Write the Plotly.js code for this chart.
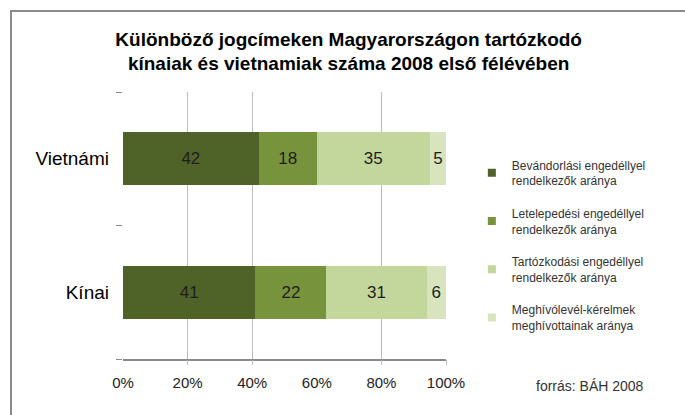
<!DOCTYPE html>
<html>
<head>
<meta charset="utf-8">
<script src="https://cdn.plot.ly/plotly-3.0.1.min.js"></script>
<style>
html,body{margin:0;padding:0;background:#fff;}
#chart{position:absolute;left:0;top:0;width:685px;height:415px;}
#frame{position:absolute;left:10px;top:10px;width:720px;height:460px;border-top:2px solid #8a8a8a;border-left:2px solid #8a8a8a;pointer-events:none;}
</style>
</head>
<body>
<div id="chart"></div>
<div id="frame"></div>
<script>
const categories = ['Kínai', 'Vietnámi'];
const seriesNames = [
  'Bevándorlási engedéllyel<br>rendelkezők aránya',
  'Letelepedési engedéllyel<br>rendelkezők aránya',
  'Tartózkodási engedéllyel<br>rendelkezők aránya',
  'Meghívólevél-kérelmek<br>meghívottainak aránya'
];
const bevandorlasi = [41, 42];
const letelepedesi = [22, 18];
const tartozkodasi = [31, 35];
const meghivolevel = [6, 5];
const seriesValues = [bevandorlasi, letelepedesi, tartozkodasi, meghivolevel];
const colors = ['#4f6228', '#77933c', '#c3d69b', '#d7e4bd'];
const xTickVals = [0, 20, 40, 60, 80, 100];
const xTickText = ['0%', '20%', '40%', '60%', '80%', '100%'];
const gridVals = [20, 40, 80, 100];

const traces = [];
seriesValues.forEach((vals, i) => {
  traces.push({
    type: 'bar', orientation: 'h',
    y: categories, x: vals,
    text: vals.map(String),
    textposition: 'inside', insidetextanchor: 'middle',
    textfont: {family: 'Liberation Sans, Arial, sans-serif', size: 17, color: '#1e1e1e'},
    marker: {color: colors[i], line: {width: 0}},
    showlegend: false, hoverinfo: 'none'
  });
});
seriesValues.forEach((vals, i) => {
  traces.push({
    type: 'scatter', mode: 'markers',
    x: [null], y: [null],
    name: seriesNames[i],
    legendgroup: 'g' + i,
    marker: {symbol: 'square', size: 8, color: colors[i]},
    showlegend: true
  });
});
// overlay axis carrying the gridlines
traces.push({type: 'scatter', x: [null], y: [null], xaxis: 'x2', showlegend: false, hoverinfo: 'none'});

const layout = {
  width: 685, height: 415,
  margin: {l: 123, r: 239, t: 92, b: 56},
  paper_bgcolor: '#ffffff', plot_bgcolor: 'rgba(0,0,0,0)',
  barmode: 'stack', bargap: 0.6,
  title: {
    text: '<b>Különböző jogcímeken Magyarországon tartózkodó<br>kínaiak és vietnamiak száma 2008 első félévében</b>',
    x: 0.509, xref: 'container', xanchor: 'center',
    y: 0.89, yref: 'container', yanchor: 'top',
    font: {family: 'Liberation Sans Narrow, Arial Narrow, Liberation Sans, sans-serif', size: 19, color: '#000'}
  },
  xaxis: {
    range: [0, 100], tickvals: xTickVals, ticktext: xTickText,
    showgrid: false, zeroline: false,
    showline: true, linecolor: '#8a8a8a', linewidth: 1.5,
    ticks: '', ticklabelstandoff: 9,
    tickfont: {family: 'Liberation Sans, Arial, sans-serif', size: 15, color: '#222'},
    fixedrange: true
  },
  xaxis2: {
    overlaying: 'x', side: 'bottom', range: [0, 100],
    tickvals: gridVals, showticklabels: false,
    showgrid: true, gridcolor: '#bdbdbd', gridwidth: 1,
    ticks: 'outside', ticklen: 5, tickcolor: '#bdbdbd', zeroline: false, showline: false
  },
  yaxis: {
    type: 'category', categoryorder: 'array', categoryarray: categories,
    range: [-0.5, 1.5],
    showgrid: false, zeroline: false, showline: false,
    ticks: 'outside', tickson: 'boundaries', ticklen: 6, tickcolor: '#8a8a8a',
    ticklabelstandoff: 13,
    tickfont: {family: 'Liberation Sans, Arial, sans-serif', size: 19, color: '#000'},
    fixedrange: true
  },
  legend: {
    x: 1.08, xanchor: 'left', y: 0.78, yanchor: 'top',
    font: {family: 'Liberation Sans, Arial, sans-serif', size: 12, color: '#333'},
    tracegroupgap: 14, itemwidth: 30,
    bgcolor: 'rgba(0,0,0,0)'
  },
  annotations: [{
    text: 'forrás: BÁH 2008', xref: 'paper', yref: 'paper',
    x: 1.272, y: -0.1, xanchor: 'left', yanchor: 'middle', showarrow: false,
    font: {family: 'Liberation Sans, Arial, sans-serif', size: 14, color: '#333'}
  }]
};

Plotly.newPlot('chart', traces, layout, {staticPlot: true, displayModeBar: false});
</script>
</body>
</html>
